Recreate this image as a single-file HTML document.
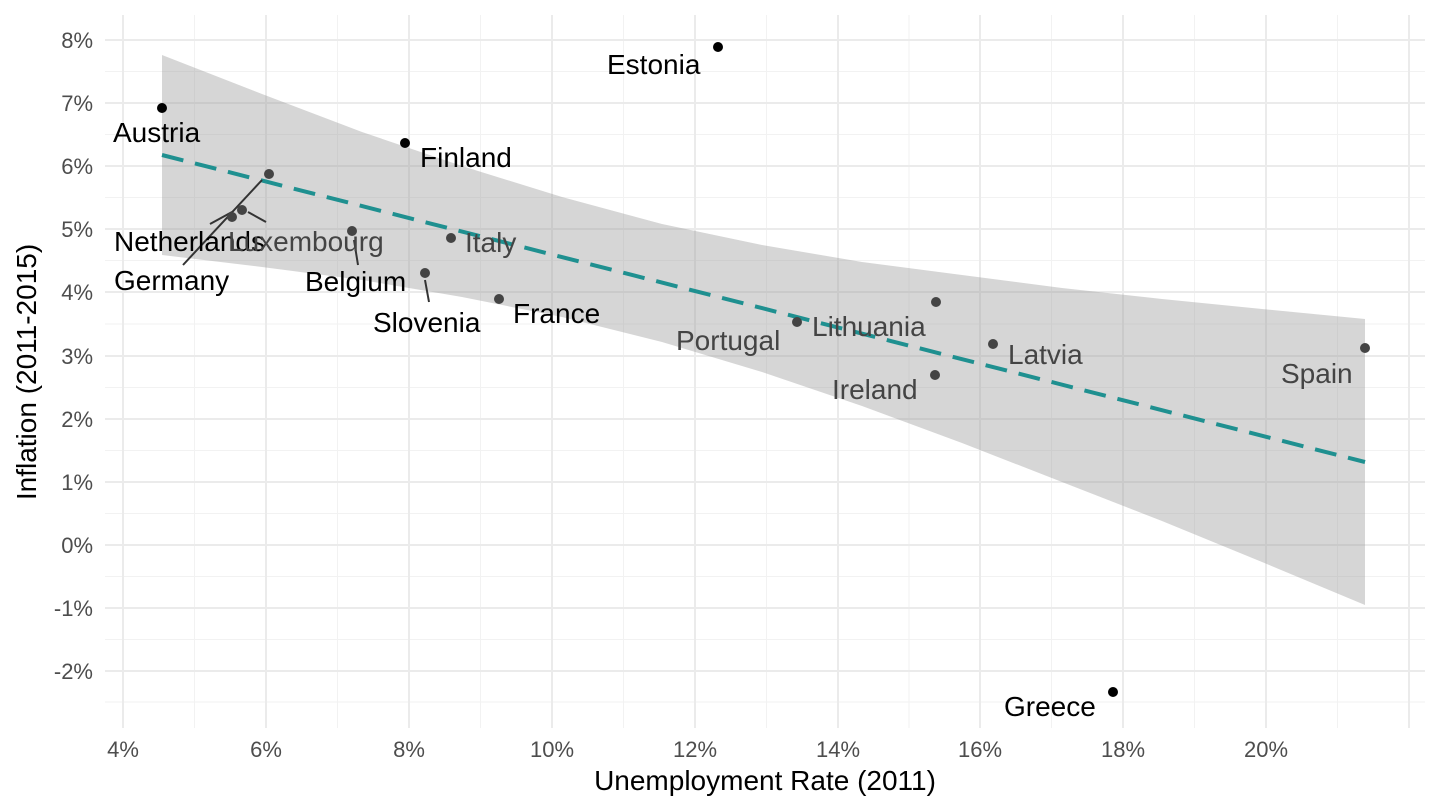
<!DOCTYPE html>
<html><head><meta charset="utf-8"><style>
html,body{margin:0;padding:0;background:#fff;}
svg{display:block;font-family:"Liberation Sans",Arial,sans-serif;}
</style></head><body>
<svg width="1440" height="810" viewBox="0 0 1440 810" xmlns="http://www.w3.org/2000/svg">
<g stroke="#f2f2f2" stroke-width="1">
<line x1="194.5" y1="15" x2="194.5" y2="728"/><line x1="337.5" y1="15" x2="337.5" y2="728"/><line x1="480.5" y1="15" x2="480.5" y2="728"/><line x1="623.5" y1="15" x2="623.5" y2="728"/><line x1="766.5" y1="15" x2="766.5" y2="728"/><line x1="909" y1="15" x2="909" y2="728"/><line x1="1051.5" y1="15" x2="1051.5" y2="728"/><line x1="1194.5" y1="15" x2="1194.5" y2="728"/><line x1="1337.5" y1="15" x2="1337.5" y2="728"/>
<line x1="105" y1="71.5" x2="1425" y2="71.5"/><line x1="105" y1="134.5" x2="1425" y2="134.5"/><line x1="105" y1="197.5" x2="1425" y2="197.5"/><line x1="105" y1="260.5" x2="1425" y2="260.5"/><line x1="105" y1="324" x2="1425" y2="324"/><line x1="105" y1="387.5" x2="1425" y2="387.5"/><line x1="105" y1="450.5" x2="1425" y2="450.5"/><line x1="105" y1="513.5" x2="1425" y2="513.5"/><line x1="105" y1="576.5" x2="1425" y2="576.5"/><line x1="105" y1="639.5" x2="1425" y2="639.5"/><line x1="105" y1="702" x2="1425" y2="702"/>
</g>
<g stroke="#ebebeb" stroke-width="2">
<line x1="123" y1="15" x2="123" y2="728"/><line x1="266" y1="15" x2="266" y2="728"/><line x1="409" y1="15" x2="409" y2="728"/><line x1="552" y1="15" x2="552" y2="728"/><line x1="695" y1="15" x2="695" y2="728"/><line x1="838" y1="15" x2="838" y2="728"/><line x1="980" y1="15" x2="980" y2="728"/><line x1="1123" y1="15" x2="1123" y2="728"/><line x1="1266" y1="15" x2="1266" y2="728"/><line x1="1409" y1="15" x2="1409" y2="728"/>
<line x1="105" y1="40" x2="1425" y2="40"/><line x1="105" y1="103" x2="1425" y2="103"/><line x1="105" y1="166" x2="1425" y2="166"/><line x1="105" y1="229" x2="1425" y2="229"/><line x1="105" y1="292" x2="1425" y2="292"/><line x1="105" y1="356" x2="1425" y2="356"/><line x1="105" y1="419" x2="1425" y2="419"/><line x1="105" y1="482" x2="1425" y2="482"/><line x1="105" y1="545" x2="1425" y2="545"/><line x1="105" y1="608" x2="1425" y2="608"/><line x1="105" y1="671" x2="1425" y2="671"/>
</g>
<polygon fill="#999" fill-opacity="0.4" points="162,55 262,94 362,132 462,166 562,197 662,224 762,245 862,262 962,275 1062,288 1162,299 1262,309 1365,319 1365,605 1262,562 1162,521 1062,482 962,443 862,406 762,372 662,342 562,317 462,297 362,280 262,267 162,255"/>
<line x1="162" y1="155" x2="1365" y2="462" stroke="#1f9090" stroke-width="4" stroke-dasharray="22,12"/>
<g stroke="#333" stroke-width="2">
<line x1="183" y1="265" x2="262" y2="180"/><line x1="210" y1="224" x2="232" y2="212"/><line x1="248" y1="212" x2="266" y2="222"/><line x1="354" y1="240" x2="358" y2="265"/><line x1="425" y1="280" x2="429" y2="302"/>
</g>
<g fill="#000">
<circle cx="162" cy="108" r="5"/><circle cx="718" cy="47" r="5"/><circle cx="405" cy="143" r="5"/><circle cx="1113" cy="692" r="5"/>
</g>
<g fill="#444">
<circle cx="269" cy="174" r="5"/><circle cx="242" cy="210" r="5"/><circle cx="232" cy="217" r="5"/><circle cx="352" cy="231" r="5"/><circle cx="451" cy="238" r="5"/><circle cx="425" cy="273" r="5"/><circle cx="499" cy="299" r="5"/><circle cx="797" cy="322" r="5"/><circle cx="936" cy="302" r="5"/><circle cx="993" cy="344" r="5"/><circle cx="935" cy="375" r="5"/><circle cx="1365" cy="348" r="5"/>
</g>
<g font-size="28" fill="#000">
<text x="607" y="74">Estonia</text><text x="113" y="142">Austria</text><text x="420" y="167">Finland</text>
<text x="114" y="251">Netherlands</text><text x="114" y="290">Germany</text><text x="305" y="291">Belgium</text>
<text x="373" y="332">Slovenia</text><text x="513" y="323">France</text><text x="1004" y="716">Greece</text>
</g>
<g font-size="28" fill="#444">
<text x="228" y="251">Luxembourg</text><text x="465" y="252">Italy</text><text x="676" y="350">Portugal</text>
<text x="812" y="336">Lithuania</text><text x="1008" y="364">Latvia</text><text x="832" y="399">Ireland</text><text x="1281" y="383">Spain</text>
</g>
<g font-size="22" fill="#4d4d4d" text-anchor="end">
<text x="93" y="48">8%</text><text x="93" y="111">7%</text><text x="93" y="174">6%</text><text x="93" y="237">5%</text><text x="93" y="300">4%</text><text x="93" y="364">3%</text><text x="93" y="427">2%</text><text x="93" y="490">1%</text><text x="93" y="553">0%</text><text x="93" y="616">-1%</text><text x="93" y="679">-2%</text>
</g>
<g font-size="22" fill="#4d4d4d" text-anchor="middle">
<text x="123" y="757">4%</text><text x="266" y="757">6%</text><text x="409" y="757">8%</text><text x="552" y="757">10%</text><text x="695" y="757">12%</text><text x="838" y="757">14%</text><text x="980" y="757">16%</text><text x="1123" y="757">18%</text><text x="1266" y="757">20%</text>
</g>
<text x="765" y="790" font-size="28" text-anchor="middle" fill="#000">Unemployment Rate (2011)</text>
<text transform="translate(36,372) rotate(-90)" font-size="28" text-anchor="middle" fill="#000">Inflation (2011-2015)</text>
</svg>
</body></html>
